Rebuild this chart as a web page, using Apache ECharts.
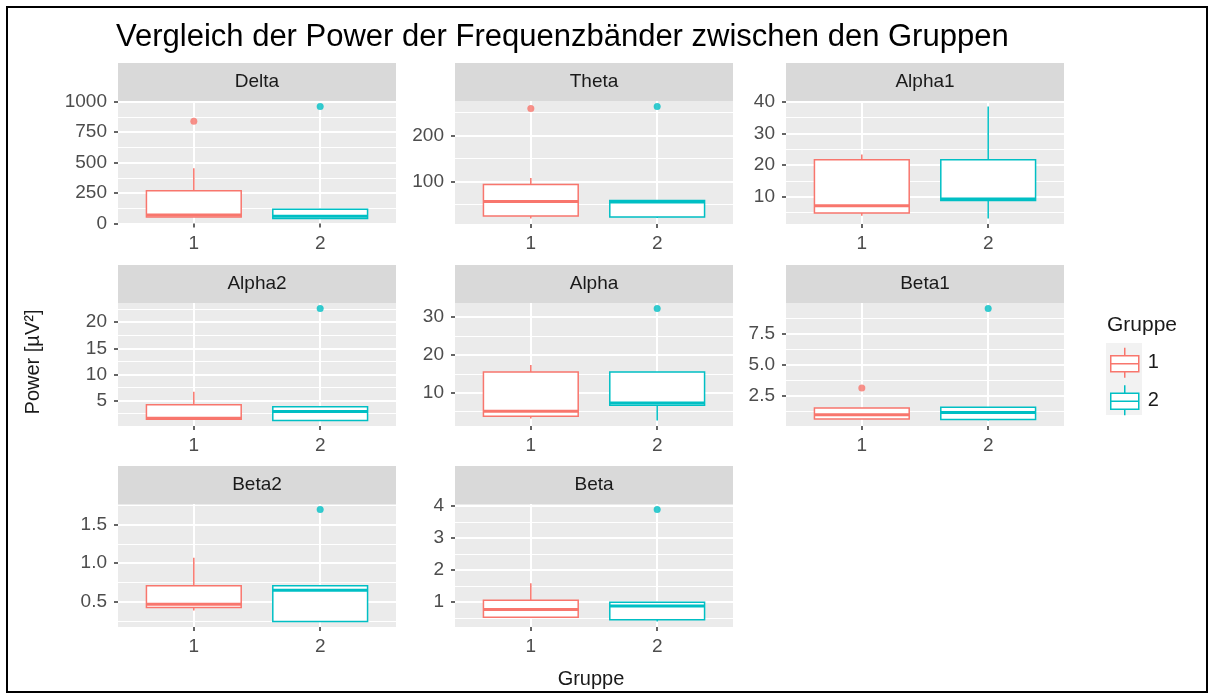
<!DOCTYPE html>
<html>
<head>
<meta charset="utf-8">
<script src="https://cdn.jsdelivr.net/npm/echarts@6/dist/echarts.min.js"></script>
<style>
  html, body { margin: 0; padding: 0; background: #fff; }
  #chart { width: 1214px; height: 694px; }
  #frame { position: absolute; left: 6px; top: 6px; width: 1198px; height: 683px; border: 2px solid #000; pointer-events: none; }
</style>
</head>
<body>
<div id="chart"></div>
<div id="frame"></div>
<script>
const FONT = '"Liberation Sans", Arial, sans-serif';

const bands = ['Delta', 'Theta', 'Alpha1', 'Alpha2', 'Alpha', 'Beta1', 'Beta2', 'Beta'];
const groups = ['1', '2'];

// [lower whisker, Q1, median, Q3, upper whisker]
const box1 = [
    [52, 52, 68, 268, 454],
    [19, 24, 56, 93, 107],
    [4.0, 4.9, 7.2, 21.7, 23.3],
    [1.3, 1.4, 1.6, 4.2, 6.7],
    [3.2, 3.8, 5.1, 15.5, 17.3],
    [0.62, 0.62, 0.95, 1.5, 1.5],
    [0.39, 0.43, 0.47, 0.71, 1.07],
    [0.52, 0.52, 0.76, 1.05, 1.58]
];
const box2 = [
    [41, 41, 58, 116, 116],
    [20, 22, 55, 58, 58],
    [3.2, 8.8, 9.3, 21.7, 38.4],
    [1.2, 1.2, 2.9, 3.8, 3.8],
    [2.7, 6.7, 7.3, 15.5, 15.5],
    [0.5, 0.58, 1.14, 1.56, 1.56],
    [0.25, 0.25, 0.65, 0.71, 0.71],
    [0.39, 0.44, 0.87, 0.99, 0.99]
];
const outliers1 = [[840], [259], [], [], [], [3.1], [], []];
const outliers2 = [[960], [263], [], [22.6], [32.2], [9.5], [1.69], [3.88]];

const majorTicks = [
    [0, 250, 500, 750, 1000], [100, 200], [10, 20, 30, 40],
    [0, 5, 10, 15, 20], [10, 20, 30], [2.5, 5, 7.5],
    [0.5, 1, 1.5], [1, 2, 3, 4]
];
const majorLabels = [
    ['0', '250', '500', '750', '1000'], ['100', '200'], ['10', '20', '30', '40'],
    ['0', '5', '10', '15', '20'], ['10', '20', '30'], ['2.5', '5.0', '7.5'],
    ['0.5', '1.0', '1.5'], ['1', '2', '3', '4']
];
const minorTicks = [
    [125, 375, 625, 875], [50, 150, 250], [5, 15, 25, 35],
    [2.5, 7.5, 12.5, 17.5, 22.5], [5, 15, 25], [1.25, 3.75, 6.25, 8.75],
    [0.25, 0.75, 1.25, 1.75], [0.5, 1.5, 2.5, 3.5]
];

const COLORS = ['#F8766D', '#00BFC4'];
const colLeft = [118, 455, 786];
const rowTop = [101, 303, 504];
const panelW = 278, panelH = 123, stripH = 38;

function renderBox(params, api) {
    const x = api.value(0);
    const low = api.coord([x, api.value(1)]);
    const q1 = api.coord([x, api.value(2)]);
    const med = api.coord([x, api.value(3)]);
    const q3 = api.coord([x, api.value(4)]);
    const high = api.coord([x, api.value(5)]);
    const half = api.size([0.75, 0])[0] / 2;
    const color = api.visual('color');
    const cx = low[0];
    return {
        type: 'group',
        children: [
            { type: 'line', shape: { x1: cx, y1: high[1], x2: cx, y2: q3[1] }, style: { stroke: color, lineWidth: 1.5 } },
            { type: 'line', shape: { x1: cx, y1: q1[1], x2: cx, y2: low[1] }, style: { stroke: color, lineWidth: 1.5 } },
            { type: 'rect', shape: { x: cx - half, y: q3[1], width: half * 2, height: q1[1] - q3[1] }, style: { fill: '#fff', stroke: color, lineWidth: 1.5 } },
            { type: 'line', shape: { x1: cx - half, y1: med[1], x2: cx + half, y2: med[1] }, style: { stroke: color, lineWidth: 3 } }
        ]
    };
}

const grid = [], xAxis = [], yAxis = [], series = [], graphic = [];

bands.forEach((band, i) => {
    const col = i % 3, row = Math.floor(i / 3);
    const left = colLeft[col], top = rowTop[row];
    grid.push({
        left: left, top: top, width: panelW, height: panelH,
        show: true, backgroundColor: '#EBEBEB', borderWidth: 0
    });

    // y range as ggplot: data range plus 5% on each side
    const vals = box1[i].concat(box2[i], outliers1[i], outliers2[i]);
    const lo = Math.min(...vals), hi = Math.max(...vals);
    const pad = (hi - lo) * 0.05;

    xAxis.push({
        type: 'value', gridIndex: i, min: 0.4, max: 2.6,
        axisLine: { show: false },
        axisTick: { show: true, length: 4, customValues: [1, 2], lineStyle: { color: '#333', width: 1.5 } },
        axisLabel: {
            customValues: [1, 2], formatter: v => groups[v - 1], margin: 10,
            color: '#4D4D4D', fontSize: 19, fontFamily: FONT
        },
        splitLine: { show: true, lineStyle: { color: '#fff', width: 2 } }
    });
    // major grid, labels and ticks
    yAxis.push({
        type: 'value', gridIndex: i, min: lo - pad, max: hi + pad, position: 'left',
        axisLine: { show: false },
        axisTick: { show: true, length: 4, customValues: majorTicks[i], lineStyle: { color: '#333', width: 1.5 } },
        axisLabel: {
            customValues: majorTicks[i],
            formatter: v => majorLabels[i][majorTicks[i].indexOf(v)],
            margin: 11, color: '#4D4D4D', fontSize: 19, fontFamily: FONT
        },
        splitLine: { show: true, lineStyle: { color: '#fff', width: 2 } }
    });
    // minor grid only
    yAxis.push({
        type: 'value', gridIndex: i, min: lo - pad, max: hi + pad, position: 'right',
        axisLine: { show: false },
        axisTick: { show: false, customValues: minorTicks[i] },
        axisLabel: { show: false, customValues: minorTicks[i] },
        splitLine: { show: true, lineStyle: { color: '#fff', width: 1 } }
    });

    [box1, box2].forEach((box, g) => {
        series.push({
            type: 'custom', name: groups[g], xAxisIndex: i, yAxisIndex: i * 2,
            renderItem: renderBox,
            itemStyle: { color: COLORS[g] },
            encode: { x: 0, y: [1, 2, 3, 4, 5] },
            data: [[g + 1].concat(box[i])],
            z: 3
        });
    });
    [outliers1, outliers2].forEach((out, g) => {
        series.push({
            type: 'scatter', name: groups[g], xAxisIndex: i, yAxisIndex: i * 2,
            symbolSize: 7, itemStyle: { color: COLORS[g] },
            data: out[i].map(v => [g + 1, v]),
            z: 4
        });
    });

    graphic.push({
        type: 'rect', left: left, top: top - stripH, silent: true,
        shape: { width: panelW, height: stripH }, style: { fill: '#D9D9D9' }
    });
    graphic.push({
        type: 'text', x: left + panelW / 2, y: top - stripH / 2, silent: true,
        style: { text: band, fill: '#1A1A1A', fontSize: 19, fontFamily: FONT, align: 'center', verticalAlign: 'middle' }
    });
});

// legend key backgrounds and titles
graphic.push(
    { type: 'rect', left: 1106, top: 343, z: -1, shape: { width: 36, height: 36 }, style: { fill: '#F2F2F2' } },
    { type: 'rect', left: 1106, top: 379, z: -1, shape: { width: 36, height: 36 }, style: { fill: '#F2F2F2' } },
    { type: 'text', x: 1107, y: 325, style: { text: 'Gruppe', fill: '#1A1A1A', fontSize: 21, fontFamily: FONT, verticalAlign: 'middle' } },
    { type: 'text', x: 33, y: 362, rotation: Math.PI / 2, style: { text: 'Power [µV²]', fill: '#1A1A1A', fontSize: 20, fontFamily: FONT, align: 'center', verticalAlign: 'middle' } },
    { type: 'text', x: 591, y: 679, style: { text: 'Gruppe', fill: '#1A1A1A', fontSize: 20, fontFamily: FONT, align: 'center', verticalAlign: 'middle' } }
);

const keyIcon = 'path://M14,0L14,8M0,8L28,8L28,24L0,24ZM0,16L28,16M14,24L14,30';

const option = {
    animation: false,
    backgroundColor: '#fff',
    title: {
        text: 'Vergleich der Power der Frequenzbänder zwischen den Gruppen',
        left: 116, top: 22, padding: 0,
        textStyle: { fontSize: 31, fontWeight: 'normal', color: '#000', fontFamily: FONT }
    },
    legend: {
        orient: 'vertical', left: 1110, top: 347, padding: 0,
        itemWidth: 28, itemHeight: 30, itemGap: 6,
        selectedMode: false,
        textStyle: { fontSize: 20, color: '#1A1A1A', fontFamily: FONT, padding: [0, 0, 0, 4] },
        data: groups.map((g, k) => ({
            name: g, icon: keyIcon,
            itemStyle: { color: '#fff', borderColor: COLORS[k], borderWidth: 1.5 }
        }))
    },
    grid, xAxis, yAxis, series, graphic
};

const chart = echarts.init(document.getElementById('chart'));
chart.setOption(option);
</script>
</body>
</html>
